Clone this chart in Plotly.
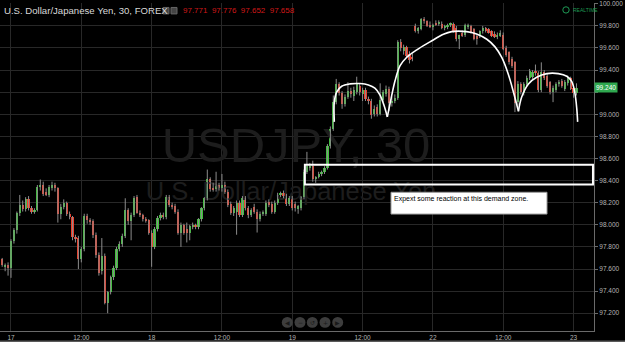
import plotly.graph_objects as go

# ---------------- data (30-min candles, index -4 .. 193) ----------------
opens = [97.78, 97.69, 97.62, 97.64,
 97.61, 97.85, 97.95, 98.11, 98.18, 98.14, 98.23, 98.15, 98.12, 98.13,
 98.34, 98.36, 98.30, 98.27, 98.33, 98.36, 98.33, 98.10, 98.16, 98.20,
 98.10, 98.07, 97.89, 97.88, 97.69, 97.78, 98.08, 98.04, 98.03, 97.91,
 97.73, 97.58, 97.72, 97.29, 97.39, 97.53, 97.61, 97.78, 97.83, 97.90,
 98.13, 98.03, 98.09, 98.25, 98.11, 98.09, 98.05, 98.04, 97.93, 97.80,
 97.96, 98.06, 98.09, 98.07, 98.25, 98.18, 98.17, 98.12, 97.93, 98.00,
 97.96, 97.93, 97.98, 98.00, 97.98, 98.05, 98.15, 98.24, 98.41, 98.33,
 98.32, 98.36, 98.33, 98.36, 98.30, 98.19, 98.11, 98.12, 98.20, 98.09,
 98.24, 98.15, 98.09, 98.16, 98.12, 98.05, 98.10, 98.10, 98.21, 98.19,
 98.12, 98.20, 98.27, 98.29, 98.26, 98.19, 98.24, 98.19, 98.14, 98.15,
 98.25, 98.48, 98.51, 98.53, 98.41, 98.43, 98.46, 98.48, 98.51, 98.71,
 98.87, 99.11, 99.27, 99.19, 99.09, 99.16, 99.21, 99.17, 99.20, 99.26,
 99.18, 99.22, 99.14, 99.12, 99.00, 99.07, 99.00, 99.13, 99.18, 99.23,
 99.10, 99.12, 99.15, 99.65, 99.57, 99.61, 99.55, 99.52,
 99.80, 99.75, 99.77, 99.86, 99.84, 99.81, 99.79, 99.83, 99.82, 99.82,
 99.78, 99.79, 99.81, 99.82, 99.78, 99.68, 99.74, 99.72, 99.79, 99.80,
 99.77, 99.71, 99.71, 99.75, 99.78, 99.77, 99.75, 99.73, 99.70, 99.71,
 99.72, 99.60, 99.56, 99.50, 99.47, 99.11, 99.27, 99.19, 99.27, 99.33,
 99.34, 99.39, 99.37, 99.22, 99.38, 99.35, 99.29, 99.20, 99.22, 99.27,
 99.30, 99.23, 99.28, 99.33, 99.24, 99.19]
highs = [97.80, 97.70, 97.65, 97.66,
 97.87, 97.97, 98.12, 98.27, 98.22, 98.25, 98.26, 98.17, 98.15, 98.36,
 98.41, 98.39, 98.33, 98.36, 98.39, 98.38, 98.34, 98.19, 98.23, 98.21,
 98.12, 98.08, 97.91, 97.90, 97.80, 98.10, 98.10, 98.06, 98.05, 97.93,
 97.75, 97.88, 97.74, 97.40, 97.54, 97.63, 97.80, 97.85, 97.92, 98.24,
 98.15, 98.11, 98.26, 98.27, 98.13, 98.10, 98.07, 98.05, 97.95, 97.98,
 98.08, 98.11, 98.11, 98.27, 98.27, 98.20, 98.19, 98.14, 98.02, 98.01,
 98.02, 98.00, 98.02, 98.01, 98.06, 98.16, 98.25, 98.50, 98.43, 98.38,
 98.48, 98.38, 98.46, 98.39, 98.32, 98.21, 98.17, 98.22, 98.22, 98.26,
 98.26, 98.17, 98.15, 98.19, 98.14, 98.12, 98.13, 98.22, 98.23, 98.21,
 98.22, 98.29, 98.30, 98.31, 98.28, 98.26, 98.26, 98.21, 98.18, 98.26,
 98.50, 98.66, 98.56, 98.58, 98.44, 98.48, 98.49, 98.53, 98.73, 98.89,
 99.17, 99.32, 99.29, 99.21, 99.18, 99.29, 99.24, 99.25, 99.34, 99.28,
 99.24, 99.24, 99.16, 99.14, 99.08, 99.09, 99.28, 99.22, 99.26, 99.25,
 99.16, 99.18, 99.67, 99.68, 99.63, 99.62, 99.57, 99.55,
 99.82, 99.79, 99.87, 99.88, 99.85, 99.84, 99.82, 99.85, 99.85, 99.84,
 99.81, 99.82, 99.83, 99.83, 99.80, 99.72, 99.76, 99.82, 99.82, 99.81,
 99.78, 99.72, 99.76, 99.80, 99.79, 99.78, 99.76, 99.75, 99.74, 99.76,
 99.74, 99.62, 99.57, 99.52, 99.48, 99.30, 99.29, 99.29, 99.35, 99.41,
 99.40, 99.45, 99.39, 99.47, 99.40, 99.37, 99.30, 99.26, 99.29, 99.31,
 99.32, 99.31, 99.35, 99.34, 99.26, 99.28]
lows = [97.68, 97.62, 97.58, 97.54,
 97.52, 97.83, 97.92, 98.08, 98.12, 98.12, 98.13, 98.10, 98.10, 98.12,
 98.31, 98.26, 98.26, 98.25, 98.31, 98.30, 98.02, 98.05, 98.14, 98.08,
 98.05, 97.86, 97.84, 97.60, 97.66, 97.76, 98.01, 98.00, 97.88, 97.70,
 97.54, 97.55, 97.28, 97.20, 97.37, 97.50, 97.59, 97.76, 97.80, 97.88,
 98.00, 97.86, 98.07, 98.10, 98.07, 98.03, 98.02, 97.91, 97.62, 97.78,
 97.94, 98.04, 98.05, 98.05, 98.16, 98.14, 98.10, 97.91, 97.80, 97.91,
 97.84, 97.86, 97.96, 97.96, 97.96, 98.03, 98.13, 98.22, 98.30, 98.30,
 98.30, 98.31, 98.30, 98.28, 98.16, 98.09, 98.08, 97.91, 98.07, 98.07,
 98.13, 98.06, 98.07, 98.10, 97.93, 98.03, 98.08, 98.08, 98.16, 98.10,
 98.10, 98.18, 98.25, 98.24, 98.17, 98.17, 98.13, 98.12, 98.10, 98.13,
 98.23, 98.46, 98.49, 98.39, 98.38, 98.42, 98.44, 98.46, 98.50, 98.69,
 98.85, 99.09, 99.17, 99.05, 99.07, 99.14, 99.15, 99.12, 99.18, 99.17,
 99.12, 99.12, 99.09, 98.96, 98.98, 98.98, 98.99, 99.11, 99.16, 99.03,
 99.07, 99.10, 99.13, 99.57, 99.54, 99.51, 99.46, 99.48,
 99.74, 99.73, 99.76, 99.82, 99.79, 99.78, 99.76, 99.80, 99.80, 99.77,
 99.76, 99.77, 99.79, 99.74, 99.66, 99.59, 99.70, 99.70, 99.77, 99.73,
 99.67, 99.63, 99.69, 99.73, 99.74, 99.73, 99.70, 99.69, 99.68, 99.70,
 99.58, 99.52, 99.45, 99.42, 99.02, 99.08, 99.18, 99.17, 99.25, 99.31,
 99.32, 99.35, 99.20, 99.20, 99.31, 99.24, 99.18, 99.11, 99.20, 99.25,
 99.24, 99.21, 99.26, 99.22, 99.15, 99.17]
closes = [97.69, 97.64, 97.64, 97.61,
 97.85, 97.95, 98.11, 98.18, 98.14, 98.23, 98.15, 98.12, 98.13, 98.34,
 98.36, 98.28, 98.27, 98.34, 98.36, 98.33, 98.10, 98.16, 98.20, 98.10,
 98.07, 97.89, 97.88, 97.69, 97.78, 98.08, 98.04, 98.03, 97.91, 97.73,
 97.56, 97.72, 97.29, 97.39, 97.53, 97.61, 97.78, 97.83, 97.90, 98.13,
 98.03, 98.09, 98.24, 98.11, 98.09, 98.05, 98.04, 97.93, 97.80, 97.96,
 98.06, 98.09, 98.07, 98.25, 98.18, 98.17, 98.12, 97.93, 98.00, 97.93,
 97.93, 97.99, 98.00, 97.98, 98.05, 98.15, 98.24, 98.41, 98.32, 98.32,
 98.35, 98.33, 98.36, 98.30, 98.18, 98.11, 98.15, 98.20, 98.09, 98.24,
 98.15, 98.09, 98.13, 98.12, 98.05, 98.10, 98.11, 98.20, 98.18, 98.12,
 98.20, 98.27, 98.29, 98.26, 98.19, 98.24, 98.15, 98.15, 98.17, 98.25,
 98.48, 98.53, 98.53, 98.41, 98.43, 98.46, 98.48, 98.51, 98.71, 98.87,
 99.11, 99.27, 99.19, 99.09, 99.16, 99.21, 99.18, 99.22, 99.27, 99.20,
 99.22, 99.14, 99.12, 98.99, 99.05, 99.00, 99.13, 99.20, 99.23, 99.10,
 99.12, 99.15, 99.65, 99.60, 99.61, 99.53, 99.49, 99.50,
 99.75, 99.78, 99.86, 99.84, 99.80, 99.79, 99.81, 99.81, 99.83, 99.78,
 99.80, 99.81, 99.82, 99.75, 99.68, 99.72, 99.71, 99.81, 99.80, 99.74,
 99.68, 99.68, 99.75, 99.78, 99.75, 99.74, 99.71, 99.70, 99.72, 99.74,
 99.59, 99.54, 99.47, 99.44, 99.10, 99.27, 99.20, 99.27, 99.33, 99.39,
 99.38, 99.37, 99.22, 99.38, 99.33, 99.26, 99.20, 99.24, 99.27, 99.29,
 99.26, 99.29, 99.33, 99.23, 99.19, 99.24]
first_index = -4

tick_pos = [0, 24, 48, 72, 96, 120, 144, 168, 192]
tick_text = ["17", "12:00", "18", "12:00", "19", "12:00", "22", "12:00", "23"]

price_ticks = [97.0, 97.2, 97.4, 97.6, 97.8, 98.0, 98.2, 98.4, 98.6, 98.8,
               99.0, 99.2, 99.4, 99.6, 99.8, 100.0]
# 99.200 is hidden behind the last-price tag in the original
price_tick_text = ["97.000", "97.200", "97.400", "97.600", "97.800", "98.000", "98.200",
                   "98.400", "98.600", "98.800", "99.000", "", "99.400", "99.600",
                   "99.800", "100.000"]

# hand-drawn arcs (candle index, price)
arc1_x = [110.35, 110.35, 111.15, 112.86, 115.7, 119.1, 122.0, 124.2, 125.9, 127.3, 128.45]
arc1_y = [98.931, 99.111, 99.200, 99.254, 99.275, 99.278, 99.266, 99.236, 99.176, 99.081, 98.976]
arc2_x = [128.45, 129.6, 131.1, 132.8, 135.0, 138.5, 143.0, 147.6, 150.4, 155.5, 158.9, 162.4,
          165.2, 167.5, 169.7, 171.5, 173.2]
arc2_y = [98.976, 99.126, 99.305, 99.440, 99.514, 99.583, 99.655, 99.724, 99.748, 99.748, 99.727,
          99.679, 99.610, 99.514, 99.365, 99.200, 99.027]
arc3_x = [173.2, 174.3, 176.6, 179.4, 182.9, 186.8, 189.7, 191.4, 192.5, 193.1, 193.4]
arc3_y = [99.027, 99.156, 99.275, 99.335, 99.368, 99.368, 99.344, 99.296, 99.185, 99.051, 98.931]

zone_low, zone_high = 98.364, 98.543
zone_start = 100.3
note_text = "Expext some reaction at this demand zone."
last_price = 99.240
ohlc_text = "97.771&nbsp;&nbsp;97.776&nbsp;&nbsp;97.652&nbsp;&nbsp;97.658"

# ---------------- figure ----------------
W, H = 625, 342
ML, MR, MT, MB = 0, 31, 0, 11
PW, PH = W - ML - MR, H - MT - MB
x_range = [-3.75, 198.98]
y_range = [97.039, 100.007]

GREEN = "#3ec13b"
RED = "#ee3d2a"
FONT = "Liberation Sans, Arial"

idx = list(range(first_index, first_index + len(closes)))

wx, wy = [], []
for i, h, l in zip(idx, highs, lows):
    wx += [i, i, None]
    wy += [l, h, None]

bases = [min(o, c) for o, c in zip(opens, closes)]
heights = [abs(c - o) for o, c in zip(opens, closes)]
colors = [GREEN if c >= o else RED for o, c in zip(opens, closes)]

def px2x(px):
    return x_range[0] + px / PW * (x_range[1] - x_range[0])

def py2y(py):
    return y_range[1] - py / PH * (y_range[1] - y_range[0])

fig = go.Figure()

# watermark (drawn first, beneath the candles)
fig.add_trace(go.Scatter(x=[px2x(296)], y=[py2y(148)], mode="text", text=["USDJPY, 30"],
                         textfont=dict(size=49, color="#1d1d1d", family=FONT),
                         hoverinfo="skip", showlegend=False))
fig.add_trace(go.Scatter(x=[px2x(291)], y=[py2y(192)], mode="text", text=["U.S. Dollar/Japanese Yen"],
                         textfont=dict(size=25.5, color="#1d1d1d", family=FONT),
                         hoverinfo="skip", showlegend=False))

fig.add_trace(go.Scatter(x=wx, y=wy, mode="lines", line=dict(color="#8c8c8c", width=1),
                         hoverinfo="skip", showlegend=False))
fig.add_trace(go.Bar(x=idx, y=heights, base=bases, width=0.74,
                     marker=dict(color=colors, line=dict(width=0)), showlegend=False))

for ax, ay in [(arc1_x, arc1_y), (arc2_x, arc2_y), (arc3_x, arc3_y)]:
    fig.add_trace(go.Scatter(x=ax, y=ay, mode="lines",
                             line=dict(color="white", width=1.6, shape="spline", smoothing=1.0),
                             hoverinfo="skip", showlegend=False))

shapes = []
# demand zone
shapes.append(dict(type="rect", xref="x", yref="y", x0=zone_start, x1=x_range[1] - 0.35,
                   y0=zone_low, y1=zone_high, line=dict(color="white", width=2),
                   fillcolor="rgba(0,0,0,0)"))
# note box
shapes.append(dict(type="rect", xref="x", yref="y", x0=px2x(391), x1=px2x(547),
                   y0=py2y(213), y1=py2y(191), line=dict(color="#9a9a9a", width=1), fillcolor="white"))
# nav buttons
for cx in [287.3, 300, 312.3, 325, 337.7]:
    shapes.append(dict(type="circle", xref="paper", yref="paper",
                       x0=(cx - 5.5) / PW, x1=(cx + 5.5) / PW,
                       y0=(PH - 322.3 - 5.5) / PH, y1=(PH - 322.3 + 5.5) / PH,
                       line=dict(color="#3d3d3d", width=0), fillcolor="#3d3d3d"))
# realtime ring
shapes.append(dict(type="circle", xref="paper", yref="paper",
                   x0=(566 - 3.2) / PW, x1=(566 + 3.2) / PW, y0=(PH - 7 - 3.2) / PH,
                   y1=(PH - 7 + 3.2) / PH, line=dict(color="#1e9a55", width=1),
                   fillcolor="rgba(0,0,0,0)"))
# header icons
for x0 in [163, 171]:
    shapes.append(dict(type="rect", xref="paper", yref="paper", x0=x0 / PW, x1=(x0 + 6) / PW,
                       y0=(PH - 11) / PH, y1=(PH - 4.5) / PH, line=dict(color="#666", width=1),
                       fillcolor="#444"))
# bottom window border
shapes.append(dict(type="rect", xref="paper", yref="paper", x0=0, x1=W / PW,
                   y0=-(MB) / PH, y1=-(MB - 1.5) / PH, line=dict(width=0), fillcolor="#5a5a5a"))

annotations = [
    dict(xref="paper", yref="paper", x=2 / PW, y=(PH - 7.5) / PH, xanchor="left", yanchor="middle",
         text="U.S. Dollar/Japanese Yen, 30, FOREX", showarrow=False,
         font=dict(size=9.6, color="#d8d8d8", family=FONT)),
    dict(xref="paper", yref="paper", x=181 / PW, y=(PH - 7.5) / PH, xanchor="left", yanchor="middle",
         text=ohlc_text, showarrow=False, font=dict(size=8, color="#d01818", family=FONT)),
    dict(xref="paper", yref="paper", x=571 / PW, y=(PH - 7) / PH, xanchor="left", yanchor="middle",
         text="REALTIME", showarrow=False, font=dict(size=5, color="#1e9a55", family=FONT)),
    dict(xref="x", yref="y", x=px2x(391.5), y=py2y(191.5), xanchor="left", yanchor="top",
         text=note_text, showarrow=False, font=dict(size=7, color="black", family=FONT)),
    dict(xref="paper", yref="y", x=1.0, y=last_price, xanchor="left", yanchor="middle",
         text="%.3f" % last_price, showarrow=False, bgcolor="#2fa84f", borderpad=1,
         font=dict(size=6.5, color="white", family=FONT)),
]
for cx, g in zip([287.3, 300, 312.3, 325, 337.7], ["◀", "−", "↺", "+", "▶"]):
    annotations.append(dict(xref="paper", yref="paper", x=cx / PW, y=(PH - 322.3) / PH,
                            xanchor="center", yanchor="middle", text=g, showarrow=False,
                            font=dict(size=6, color="#1a1a1a", family="DejaVu Sans")))

fig.update_layout(
    width=W, height=H,
    margin=dict(l=ML, r=MR, t=MT, b=MB),
    paper_bgcolor="black", plot_bgcolor="black",
    showlegend=False, bargap=0,
    shapes=shapes, annotations=annotations,
    xaxis=dict(range=x_range, tickmode="array", tickvals=tick_pos, ticktext=tick_text,
               showgrid=True, gridcolor="#282828", gridwidth=1, zeroline=False,
               showline=True, linecolor="#6a6a6a", linewidth=1, ticks="", ticklen=0,
               tickfont=dict(size=6.5, color="#b5b5b5", family=FONT),
               fixedrange=True),
    yaxis=dict(range=y_range, side="right", tickmode="array", tickvals=price_ticks,
               ticktext=price_tick_text, ticklabeloverflow="allow",
               showgrid=True, gridcolor="#282828", gridwidth=1, zeroline=False,
               showline=True, linecolor="#6a6a6a", linewidth=1, ticks="outside", ticklen=3,
               tickcolor="#6a6a6a",
               tickfont=dict(size=6.5, color="#b5b5b5", family=FONT),
               fixedrange=True),
)

fig.write_html("out.html")
